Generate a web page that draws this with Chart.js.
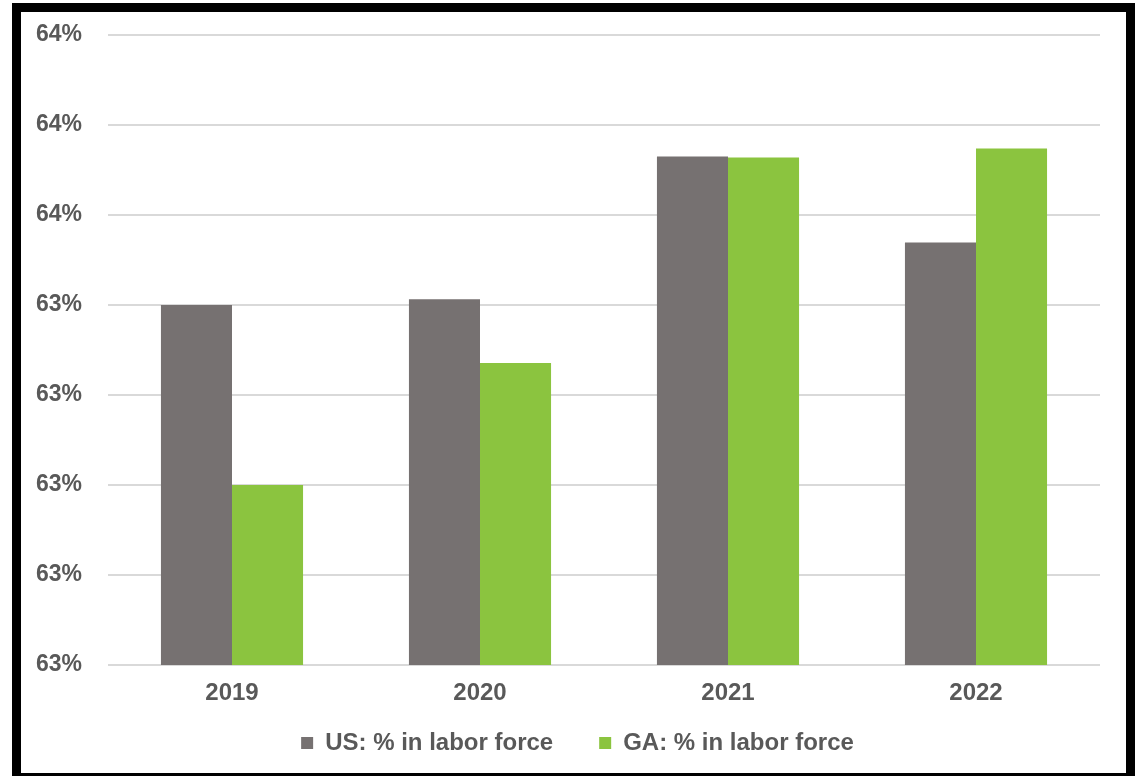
<!DOCTYPE html>
<html>
<head>
<meta charset="utf-8">
<script src="https://cdn.jsdelivr.net/npm/chart.js@4.4.0/dist/chart.umd.min.js"></script>
<style>
  html, body { margin: 0; padding: 0; background: #ffffff; overflow: hidden; }
  #wrap { position: relative; width: 1135px; height: 776px; }
  #c { position: absolute; left: 0; top: 0; }
  #frame { position: absolute; left: 12px; top: 3px; width: 1123px; height: 779px;
           border: 9px solid #000; box-sizing: border-box; pointer-events: none; }
</style>
</head>
<body>
<div id="wrap">
  <canvas id="c" width="1135" height="776"></canvas>
  <div id="frame"></div>
</div>
<script>
const categories = ["2019", "2020", "2021", "2022"];
const usValues = [63.40, 63.413, 63.730, 63.539];
const gaValues = [63.00, 63.271, 63.728, 63.748];
const seriesNames = ["US: % in labor force", "GA: % in labor force"];
const yMin = 62.6, yMax = 64.0, yStep = 0.2;

const textColor = "#595959";
const fontFamily = "'Liberation Sans', Arial, sans-serif";

const legendShift = {
  id: "legendShift",
  afterLayout(chart) {
    const L = chart.legend;
    if (!L) return;
    L.top -= 28;
    L.bottom = chart.height;
    L.left += 10; L.right += 10;
  }
};

new Chart(document.getElementById("c"), {
  type: "bar",
  data: {
    labels: categories,
    datasets: [
      { label: seriesNames[0], data: usValues, backgroundColor: "#767171", borderWidth: 0 },
      { label: seriesNames[1], data: gaValues, backgroundColor: "#8bc43f", borderWidth: 0 }
    ]
  },
  plugins: [legendShift],
  options: {
    responsive: false,
    animation: false,
    devicePixelRatio: 1,
    layout: { padding: { left: 35, right: 35, top: 35, bottom: 0 } },
    datasets: { bar: { categoryPercentage: 0.573, barPercentage: 1.0 } },
    scales: {
      x: {
        grid: { display: false, drawTicks: false },
        border: { display: false },
        ticks: { color: textColor, font: { family: fontFamily, size: 24, weight: "bold" }, padding: 14 },
        afterFit(s) { s.height = 48; s.paddingLeft = 0; s.paddingRight = 0; }
      },
      y: {
        min: yMin, max: yMax,
        grid: { color: "#d9d9d9", lineWidth: 2, drawTicks: false },
        border: { display: false },
        ticks: {
          stepSize: yStep,
          color: textColor,
          font: { family: fontFamily, size: 23, weight: "bold" },
          padding: 26,
          callback: (v) => Math.round(v).toFixed(0) + "%"
        },
        afterFit(s) { s.width = 73; s.paddingTop = 0; s.paddingBottom = 0; }
      }
    },
    plugins: {
      tooltip: { enabled: false },
      legend: {
        position: "bottom",
        maxHeight: 63,
        labels: {
          color: textColor,
          font: { family: fontFamily, size: 24, weight: "bold" },
          boxWidth: 12, boxHeight: 12,
          padding: 46
        }
      }
    }
  }
});
</script>
</body>
</html>
